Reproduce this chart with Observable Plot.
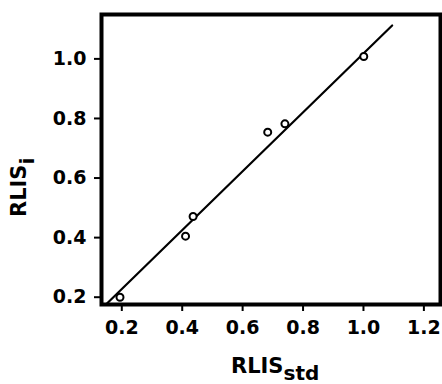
<!DOCTYPE html>
<html>
<head>
<meta charset="utf-8">
<script src="https://cdn.jsdelivr.net/npm/d3@7"></script>
<script src="https://cdn.jsdelivr.net/npm/@observablehq/plot@0.6"></script>
<style>
  html, body { margin: 0; padding: 0; background: #fff; }
  svg { display: block; }
</style>
</head>
<body>
<div id="chart"></div>
<script>
// Data
const rlisStd = [0.194, 0.411, 0.436, 0.683, 0.740, 1.001];
const rlisI   = [0.200, 0.405, 0.471, 0.754, 0.782, 1.008];
// fitted line endpoints
const lineX = [0.150, 1.095];
const lineY = [0.178, 1.112];
const xTicks = [0.2, 0.4, 0.6, 0.8, 1.0, 1.2];
const yTicks = [0.2, 0.4, 0.6, 0.8, 1.0];

const points = rlisStd.map((x, i) => ({x, y: rlisI[i]}));
const fitLine = lineX.map((x, i) => ({x, y: lineY[i]}));

const fontFam = "'DejaVu Sans', Verdana, sans-serif";

const svg = Plot.plot({
  width: 442,
  height: 384,
  marginLeft: 101,
  marginRight: 2,
  marginTop: 14,
  marginBottom: 80,
  style: {fontFamily: fontFam, fontSize: "19px", fontWeight: "bold", color: "#000", background: "#fff"},
  x: {domain: [0.1328, 1.255]},
  y: {domain: [0.1755, 1.149]},
  marks: [
    Plot.line(fitLine, {x: "x", y: "y", stroke: "#000", strokeWidth: 2.2}),
    Plot.dot(points, {x: "x", y: "y", r: 3.5, stroke: "#000", strokeWidth: 2, fill: "#fff"}),
    Plot.axisX({ticks: xTicks, tickFormat: d3.format(".1f"), tickSize: 7, tickPadding: 9, strokeWidth: 2, label: null, fontSize: 19, fontWeight: "bold"}),
    Plot.axisY({ticks: yTicks, tickFormat: d3.format(".1f"), tickSize: 7, tickPadding: 8, strokeWidth: 2, label: null, fontSize: 19, fontWeight: "bold"}),
    Plot.frame({stroke: "#000", strokeWidth: 4})
  ]
});

// Axis titles with subscripts
const s = d3.select(svg);
const xl = s.append("text")
  .attr("x", 231).attr("y", 373)
  .attr("text-anchor", "start")
  .attr("font-family", fontFam).attr("font-size", 21).attr("font-weight", "bold")
  .attr("fill", "#000");
xl.append("tspan").text("RLIS");
xl.append("tspan").attr("font-size", 20).attr("dy", 7).text("std");

const yl = s.append("text")
  .attr("transform", "translate(26,217) rotate(-90)")
  .attr("text-anchor", "start")
  .attr("font-family", fontFam).attr("font-size", 21).attr("font-weight", "bold")
  .attr("fill", "#000");
yl.append("tspan").text("RLIS");
yl.append("tspan").attr("font-size", 20).attr("dy", 8).text("i");

document.getElementById("chart").appendChild(svg);
</script>
</body>
</html>
